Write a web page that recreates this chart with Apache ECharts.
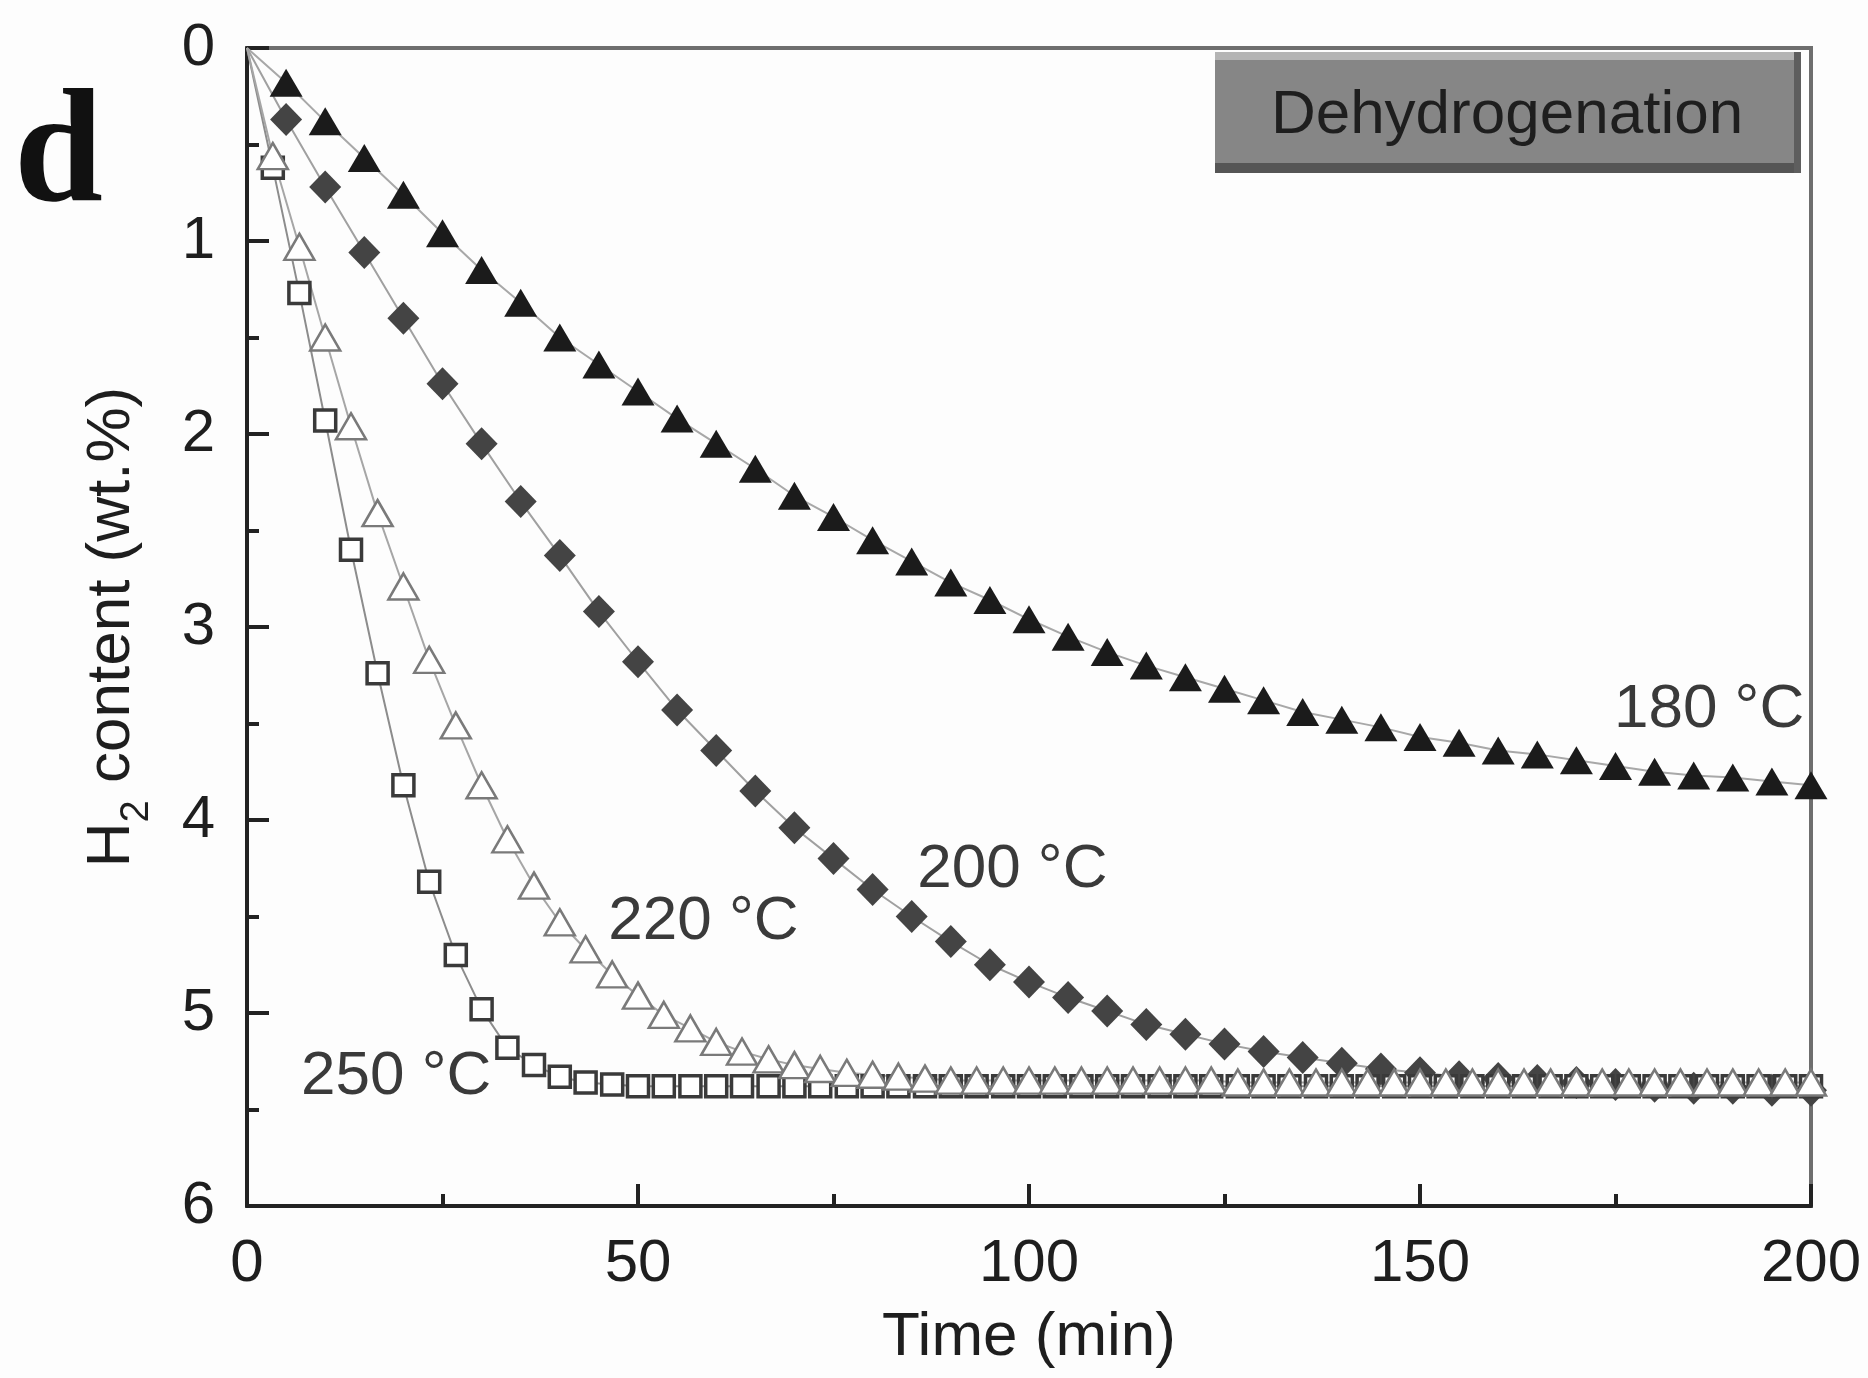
<!DOCTYPE html>
<html>
<head>
<meta charset="utf-8">
<style>
  html, body { margin: 0; padding: 0; background: #fdfdfd; }
  #chart { width: 1868px; height: 1378px; }
</style>
<script src="https://cdn.jsdelivr.net/npm/echarts@6/dist/echarts.min.js"></script>
</head>
<body>
<div id="chart"></div>
<script>
// Time grids (min)
const times5 = [0, 5, 10, 15, 20, 25, 30, 35, 40, 45, 50, 55, 60, 65, 70, 75, 80, 85, 90, 95, 100,
    105, 110, 115, 120, 125, 130, 135, 140, 145, 150, 155, 160, 165, 170, 175, 180, 185, 190, 195, 200];
const times3 = [0, 3.3, 6.7, 10, 13.3, 16.7, 20, 23.3, 26.7, 30, 33.3, 36.7, 40, 43.3, 46.7,
    50, 53.3, 56.7, 60, 63.3, 66.7, 70, 73.3, 76.7, 80, 83.3, 86.7, 90, 93.3, 96.7,
    100, 103.3, 106.7, 110, 113.3, 116.7, 120, 123.3, 126.7, 130, 133.3, 136.7, 140, 143.3, 146.7,
    150, 153.3, 156.7, 160, 163.3, 166.7, 170, 173.3, 176.7, 180, 183.3, 186.7, 190, 193.3, 196.7, 200];

// H2 content (wt.%)
const h2At180 = [0, 0.18, 0.38, 0.57, 0.76, 0.96, 1.15, 1.32, 1.50, 1.64, 1.78, 1.92, 2.05, 2.18, 2.32, 2.43,
    2.55, 2.66, 2.77, 2.86, 2.96, 3.05, 3.13, 3.20, 3.26, 3.32, 3.38, 3.44, 3.48, 3.52, 3.57,
    3.60, 3.64, 3.66, 3.69, 3.72, 3.75, 3.77, 3.78, 3.80, 3.82];
const h2At200 = [0, 0.37, 0.72, 1.06, 1.40, 1.74, 2.05, 2.35, 2.63, 2.92, 3.18, 3.43, 3.64, 3.85, 4.04, 4.20,
    4.36, 4.50, 4.63, 4.75, 4.84, 4.92, 4.99, 5.06, 5.11, 5.16, 5.20, 5.23, 5.26, 5.29, 5.31,
    5.33, 5.34, 5.35, 5.36, 5.37, 5.38, 5.39, 5.39, 5.40, 5.40];
const h2At220 = [0, 0.56, 1.03, 1.50, 1.96, 2.41, 2.79, 3.17, 3.51, 3.82, 4.10, 4.34, 4.53, 4.67, 4.80,
    4.91, 5.01, 5.08, 5.15, 5.20, 5.24, 5.27, 5.29, 5.31, 5.32, 5.33, 5.34, 5.35, 5.35, 5.35,
    5.35, 5.35, 5.35, 5.35, 5.35, 5.35, 5.35, 5.35, 5.36, 5.36, 5.36, 5.36, 5.36, 5.36, 5.36,
    5.36, 5.36, 5.36, 5.36, 5.36, 5.36, 5.36, 5.36, 5.36, 5.36, 5.36, 5.36, 5.36, 5.36, 5.36, 5.36];
const h2At250 = [0, 0.62, 1.27, 1.93, 2.60, 3.24, 3.82, 4.32, 4.70, 4.98, 5.18, 5.27, 5.33, 5.36, 5.37,
    5.38, 5.38, 5.38, 5.38, 5.38, 5.38, 5.38, 5.38, 5.38, 5.38, 5.38, 5.38, 5.38, 5.38, 5.38,
    5.38, 5.38, 5.38, 5.38, 5.38, 5.38, 5.38, 5.38, 5.38, 5.38, 5.38, 5.38, 5.38, 5.38, 5.38,
    5.38, 5.38, 5.38, 5.38, 5.38, 5.38, 5.38, 5.38, 5.38, 5.38, 5.38, 5.38, 5.38, 5.38, 5.38, 5.38];

// Curve labels: text and anchor in data coordinates (time, wt.%)
const curveLabels = [
    {text: '180 °C', at: [174.8, 3.43]},
    {text: '200 °C', at: [85.7, 4.26]},
    {text: '220 °C', at: [46.2, 4.53]},
    {text: '250 °C', at: [6.9, 5.33]}
];

const FONT = '"Liberation Sans", Arial, sans-serif';

// first point (origin) has no marker, only starts the line
const toData = (times, values) => times.map((t, i) =>
    i === 0 ? {value: [t, values[i]], symbol: 'none'} : [t, values[i]]);

const chart = echarts.init(document.getElementById('chart'));

const seriesOf = (name, times, values, symbol, size, itemStyle, lineColor) => ({
    name: name,
    type: 'line',
    data: toData(times, values),
    symbol: symbol,
    symbolSize: size,
    showAllSymbol: true,
    itemStyle: itemStyle,
    lineStyle: {color: lineColor, width: 2},
    emphasis: {disabled: true}
});

chart.setOption({
    animation: false,
    backgroundColor: '#fdfdfd',
    grid: {
        left: 247, right: 57, top: 48, bottom: 172,
        show: true,
        borderColor: '#6e6e6e',
        borderWidth: 4,
        backgroundColor: 'transparent'
    },
    xAxis: {
        type: 'value',
        position: 'bottom',
        min: 0, max: 200, interval: 50,
        name: 'Time (min)',
        nameLocation: 'middle',
        nameGap: 101,
        nameTextStyle: {fontSize: 62, fontFamily: FONT, color: '#1e1e1e'},
        axisLine: {onZero: false, lineStyle: {color: '#222', width: 4}},
        axisTick: {inside: true, length: 22, lineStyle: {color: '#222', width: 4}},
        minorTick: {show: true, splitNumber: 2, length: 12, lineStyle: {color: '#222', width: 4}},
        axisLabel: {fontSize: 60, fontFamily: FONT, color: '#1e1e1e', margin: 28},
        splitLine: {show: false}
    },
    yAxis: {
        type: 'value',
        inverse: true,
        min: 0, max: 6, interval: 1,
        name: '{t|H}{s|2}{t| content (wt.%)}',
        nameLocation: 'middle',
        nameRotate: 90,
        nameGap: 90,
        nameTextStyle: {
            color: '#1e1e1e',
            rich: {
                t: {fontSize: 62, fontFamily: FONT, color: '#1e1e1e', lineHeight: 90, verticalAlign: 'middle'},
                s: {fontSize: 40, fontFamily: FONT, color: '#1e1e1e', lineHeight: 40, verticalAlign: 'bottom'}
            }
        },
        axisLine: {onZero: false, lineStyle: {color: '#222', width: 4}},
        axisTick: {inside: true, length: 22, lineStyle: {color: '#222', width: 4}},
        minorTick: {show: true, splitNumber: 2, length: 12, lineStyle: {color: '#222', width: 4}},
        axisLabel: {fontSize: 60, fontFamily: FONT, color: '#1e1e1e', margin: 32},
        splitLine: {show: false}
    },
    series: [
        seriesOf('180 °C', times5, h2At180, 'triangle', [33, 28],
            {color: '#1b1b1b'}, '#a8a8a8'),
        seriesOf('200 °C', times5, h2At200, 'diamond', [32, 33],
            {color: '#444444'}, '#a0a0a0'),
        seriesOf('250 °C', times3, h2At250, 'rect', 21,
            {color: '#ffffff', borderColor: '#3a3a3a', borderWidth: 3.5}, '#8c8c8c'),
        seriesOf('220 °C', times3, h2At220, 'triangle', [30, 26],
            {color: '#ffffff', borderColor: '#7a7a7a', borderWidth: 2.5}, '#a6a6a6')
    ]
});

// annotations --------------------------------------------------------
const graphics = [
    {
        type: 'text', x: 14, y: 159, z: 100,
        style: {text: 'd', fontSize: 160, fontWeight: 'bold', fontFamily: '"Liberation Serif", "Times New Roman", serif',
            fill: '#111', align: 'left', verticalAlign: 'middle'}
    },
    // "Dehydrogenation" tag in the top right corner
    {type: 'rect', z: 100, shape: {x: 1215, y: 52, width: 586, height: 121}, style: {fill: '#868686'}},
    {type: 'rect', z: 101, shape: {x: 1215, y: 52, width: 586, height: 8}, style: {fill: '#b4b4b4'}},
    {type: 'rect', z: 101, shape: {x: 1215, y: 163, width: 586, height: 10}, style: {fill: '#555555'}},
    {type: 'rect', z: 101, shape: {x: 1794, y: 52, width: 7, height: 121}, style: {fill: '#5e5e5e'}},
    {
        type: 'text', x: 1507, y: 116, z: 102,
        style: {text: 'Dehydrogenation', fontSize: 62, fontFamily: FONT, fill: '#1e1e1e',
            align: 'center', verticalAlign: 'middle'}
    }
];

curveLabels.forEach(function(lbl) {
    const p = chart.convertToPixel({gridIndex: 0}, lbl.at);
    graphics.push({
        type: 'text', x: p[0], y: p[1], z: 100,
        style: {text: lbl.text, fontSize: 62, fontFamily: FONT, fill: '#3a3a3a',
            align: 'left', verticalAlign: 'middle'}
    });
});

chart.setOption({graphic: graphics});
</script>
</body>
</html>
